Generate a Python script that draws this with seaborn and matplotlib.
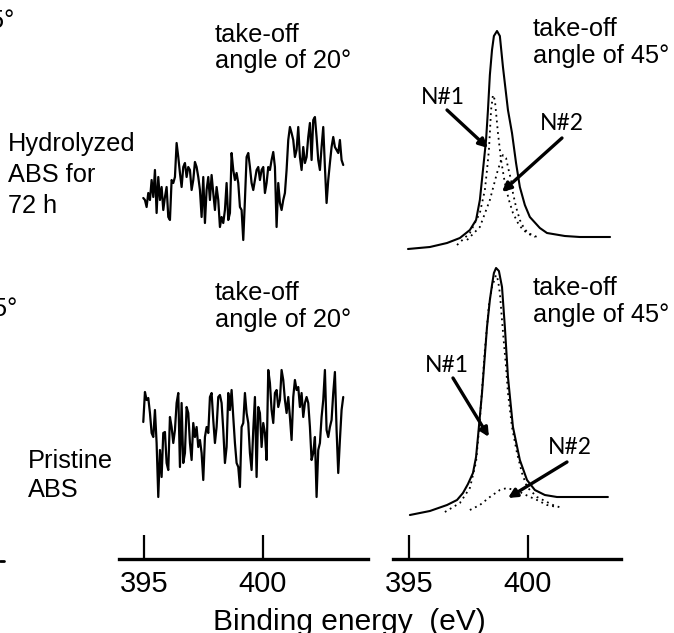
import numpy as np
import matplotlib
matplotlib.use("Agg")
import matplotlib.pyplot as plt
from matplotlib.lines import Line2D
import seaborn as sns

sns.set_theme(style="white")
plt.rcParams["font.family"] = ["Liberation Sans", "DejaVu Sans"]

# --- N1s, take-off angle of 20 deg (noisy, left column) ---
be_noise = [
    394.97, 395.04, 395.11, 395.18, 395.25, 395.32, 395.39, 395.46, 395.53, 395.60,
    395.67, 395.74, 395.81, 395.88, 395.95, 396.02, 396.09, 396.16, 396.23, 396.30,
    396.37, 396.44, 396.51, 396.58, 396.65, 396.72, 396.79, 396.86, 396.93, 397.00,
    397.07, 397.14, 397.21, 397.28, 397.35, 397.42, 397.49, 397.56, 397.63, 397.70,
    397.77, 397.84, 397.91, 397.98, 398.05, 398.12, 398.19, 398.26, 398.33, 398.40,
    398.47, 398.54, 398.61, 398.68, 398.75, 398.82, 398.89, 398.96, 399.03, 399.10,
    399.17, 399.24, 399.31, 399.38, 399.45, 399.52, 399.59, 399.66, 399.73, 399.80,
    399.87, 399.94, 400.01, 400.08, 400.15, 400.22, 400.29, 400.36, 400.43, 400.50,
    400.57, 400.64, 400.71, 400.78, 400.85, 400.92, 400.99, 401.06, 401.13, 401.20,
    401.27, 401.34, 401.41, 401.48, 401.55, 401.62, 401.69, 401.76, 401.83, 401.90,
    401.97, 402.04, 402.11, 402.18, 402.25, 402.32, 402.39, 402.46, 402.53, 402.60,
    402.67, 402.74, 402.81, 402.88, 402.95, 403.02, 403.09, 403.16, 403.23, 403.30,
    403.37,
]
hyd_noise = [
    52, 50, 43, 57, 50, 70, 53, 80, 37, 73,
    50, 63, 40, 53, 63, 33, 30, 70, 67, 73,
    107, 93, 77, 63, 83, 87, 73, 83, 80, 60,
    70, 88, 83, 73, 60, 33, 73, 27, 60, 73,
    50, 75, 57, 40, 63, 50, 23, 33, 27, 40,
    67, 30, 37, 97, 80, 70, 77, 67, 43, 40,
    10, 50, 93, 97, 83, 67, 60, 70, 80, 83,
    70, 80, 83, 57, 67, 83, 80, 90, 98, 83,
    23, 67, 47, 40, 50, 57, 80, 110, 123, 117,
    110, 93, 100, 123, 93, 80, 103, 87, 93, 113,
    127, 90, 130, 133, 113, 90, 80, 103, 123, 83,
    47, 70, 87, 103, 113, 103, 100, 97, 110, 90,
    85,
]
pri_noise = [
    97, 127, 119, 121, 106, 86, 82, 109, 76, 22,
    69, 42, 86, 87, 56, 49, 102, 92, 76, 89,
    116, 126, 52, 116, 56, 66, 112, 106, 76, 59,
    96, 82, 92, 72, 79, 66, 39, 82, 92, 86,
    122, 126, 99, 76, 92, 122, 124, 116, 89, 56,
    72, 126, 109, 129, 102, 76, 56, 52, 32, 92,
    96, 126, 106, 96, 66, 49, 89, 122, 42, 112,
    106, 72, 96, 86, 59, 149, 136, 109, 96, 126,
    129, 112, 119, 149, 139, 119, 106, 122, 102, 79,
    122, 139, 129, 132, 112, 126, 102, 116, 122, 116,
    92, 59, 66, 82, 22, 69, 76, 102, 119, 149,
    89, 82, 92, 99, 126, 147, 89, 46, 79, 109,
    122,
]

# --- N1s, take-off angle of 45 deg (fitted, right column) ---
hyd_be = [394.96, 395.88, 396.60, 397.14, 397.56, 397.82, 397.98, 398.11, 398.24, 398.32,
          398.40, 398.49, 398.57, 398.70, 398.82, 398.95, 399.16, 399.33, 399.50, 399.66,
          399.87, 400.08, 400.50, 400.80, 401.55, 402.18, 402.82, 403.45]
hyd_sum = [1, 3, 7, 12, 20, 30, 50, 80, 110, 140, 175, 200, 214, 219, 214, 183, 140, 117,
           87, 63, 45, 33, 22, 17, 14, 13, 13, 13]
hyd_n1_be = [397.02, 397.56, 397.98, 398.19, 398.28, 398.36, 398.40, 398.45, 398.53, 398.61,
             398.74, 398.87, 399.03, 399.20, 399.37, 399.58, 399.79, 400.04, 400.29]
hyd_n1 = [5, 17, 37, 60, 80, 100, 117, 140, 155, 150, 117, 90, 67, 50, 37, 27, 20, 16, 13]
hyd_n2_be = [397.44, 397.98, 398.40, 398.70, 398.87, 398.95, 399.08, 399.16, 399.29, 399.37,
             399.50, 399.66, 399.83, 400.00, 400.38]
hyd_n2 = [10, 23, 50, 77, 90, 95, 92, 83, 70, 57, 43, 30, 22, 17, 13]

pri_be = [395.04, 395.88, 396.60, 397.02, 397.27, 397.48, 397.69, 397.82, 397.90, 398.07,
          398.28, 398.40, 398.49, 398.57, 398.66, 398.78, 398.91, 399.03, 399.16, 399.37,
          399.66, 399.96, 400.29, 400.71, 401.22, 402.18, 403.36]
pri_sum = [4, 8, 14, 19, 26, 35, 46, 62, 82, 126, 192, 219, 234, 246, 251, 248, 232, 192,
           142, 92, 59, 39, 29, 24, 22, 22, 22]
pri_n1_be = [396.51, 397.14, 397.56, 397.82, 397.98, 398.19, 398.36, 398.49, 398.66, 398.74,
             398.82, 398.91, 398.99, 399.08, 399.16, 399.33, 399.54, 399.75, 399.96, 400.38,
             401.05, 401.43]
pri_n1 = [7, 16, 31, 57, 99, 169, 214, 232, 244, 239, 226, 199, 176, 152, 126, 92, 66, 46,
          32, 22, 14, 11]
pri_n2_be = [397.56, 397.98, 398.40, 398.82, 399.12, 399.41, 399.66, 400.00, 400.38, 400.80, 401.22]
pri_n2 = [9, 14, 22, 29, 31, 29, 27, 23, 19, 14, 12]

tick_vals = [395, 400]

# stacking offsets (a.u.) and layout
OFF_TOP, OFF_BOT = 309, 40
YMAX = 559
W, H = 674, 633


def box(x0, x1, ytop, ybot):
    return [x0 / W, 1 - ybot / H, (x1 - x0) / W, (ybot - ytop) / H]


fig = plt.figure(figsize=(W / 100, H / 100), dpi=100)
ax_l = fig.add_axes(box(119, 368, 0, 559))
ax_r = fig.add_axes(box(393, 621, 0, 559))

for ax, xlim in [(ax_l, (393.95, 404.41)), (ax_r, (394.33, 403.91))]:
    ax.set_xlim(*xlim)
    ax.set_ylim(0, YMAX)
    ax.patch.set_visible(False)
    for s in ["left", "top", "right"]:
        ax.spines[s].set_visible(False)
    ax.spines["bottom"].set_linewidth(2.4)
    ax.spines["bottom"].set_color("black")
    ax.set_xticks(tick_vals)
    ax.set_xticklabels([str(t) for t in tick_vals])
    ax.set_yticks([])
    ax.tick_params(axis="x", bottom=True, direction="in", length=17, width=1.6,
                   pad=8, labelsize=21, colors="black")

dots = (0, (1, 2.2))
line_kw = dict(color="black", estimator=None, sort=False, legend=False)

# noisy 20 deg spectra
sns.lineplot(x=be_noise, y=np.array(hyd_noise) + OFF_TOP, ax=ax_l, lw=1.6, **line_kw)
sns.lineplot(x=be_noise, y=np.array(pri_noise) + OFF_BOT, ax=ax_l, lw=1.6, **line_kw)

# 45 deg spectra with components
sns.lineplot(x=hyd_be, y=np.array(hyd_sum) + OFF_TOP, ax=ax_r, lw=1.5, **line_kw)
sns.lineplot(x=hyd_n1_be, y=np.array(hyd_n1) + OFF_TOP, ax=ax_r, lw=1.3, linestyle=dots, **line_kw)
sns.lineplot(x=hyd_n2_be, y=np.array(hyd_n2) + OFF_TOP, ax=ax_r, lw=1.3, linestyle=dots, **line_kw)
sns.lineplot(x=pri_be, y=np.array(pri_sum) + OFF_BOT, ax=ax_r, lw=1.5, **line_kw)
sns.lineplot(x=pri_n1_be, y=np.array(pri_n1) + OFF_BOT, ax=ax_r, lw=1.3, linestyle=dots, **line_kw)
sns.lineplot(x=pri_n2_be, y=np.array(pri_n2) + OFF_BOT, ax=ax_r, lw=1.3, linestyle=dots, **line_kw)

# component labels and arrows
nfont = ["Lato", "DejaVu Sans"]
arrow = dict(arrowstyle="-|>", color="black", lw=2.4, mutation_scale=13, shrinkA=0, shrinkB=0)
for lab, txt, tail, tip in [
    ("N#1", (396.43, 461), (396.60, 449), (398.32, 411)),
    ("N#2", (401.43, 436), (401.43, 421), (398.91, 367)),
    ("N#1", (396.60, 194), (396.85, 181), (398.36, 122)),
    ("N#2", (401.76, 111), (401.64, 97), (399.16, 61)),
]:
    ax_r.text(*txt, lab, ha="center", va="center", fontsize=16.5, family=nfont, color="black")
    ax_r.annotate("", xy=tip, xytext=tail, arrowprops=arrow)


def put(x, y, s, **kw):
    fig.text(x / W, 1 - y / H, s, va="baseline", fontsize=18.3, color="black", **kw)


put(215, 42, "take-off")
put(215, 68, "angle of 20°")
put(533, 36, "take-off")
put(533, 63, "angle of 45°")
put(215, 300, "take-off")
put(215, 327, "angle of 20°")
put(533, 295, "take-off")
put(533, 322, "angle of 45°")
put(8, 151, "Hydrolyzed")
put(8, 182, "ABS for")
put(8, 213, "72 h")
put(28, 468, "Pristine")
put(28, 497, "ABS")
# pieces of the neighbouring panel, cut by the left edge
put(14, 28, "angle of 45°", ha="right")
put(17, 316, "angle of 45°", ha="right")
fig.add_artist(Line2D([0, 4 / W], [1 - 561 / H] * 2, color="black", lw=2))

fig.text(349 / W, 1 - 630 / H, "Binding energy  (eV)", ha="center", va="baseline",
         fontsize=21.5, color="black")

fig.savefig("out.png", dpi=100)
